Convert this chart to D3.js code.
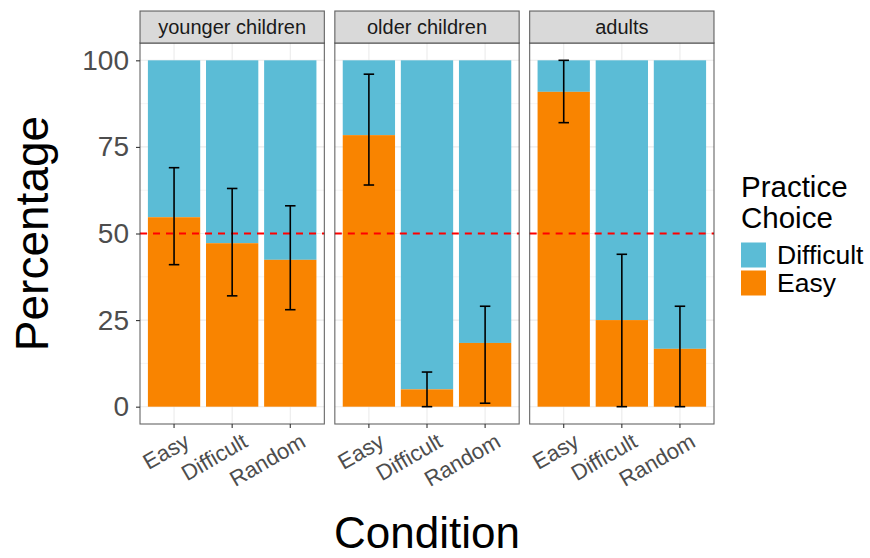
<!DOCTYPE html>
<html>
<head>
<meta charset="utf-8">
<script src="https://cdn.jsdelivr.net/npm/d3@7"></script>
<style>
  body { margin: 0; background: #ffffff; }
  svg { display: block; font-family: "Liberation Sans", Arial, Helvetica, sans-serif; }
</style>
</head>
<body>
<svg id="chart" width="870" height="558"></svg>
<script>
// Groups (facets), conditions (x categories) and choice series
const groups = ["younger children", "older children", "adults"];
const conditions = ["Easy", "Difficult", "Random"];
const choices = ["Difficult", "Easy"];
const choiceColors = ["#5BBCD6", "#F98400"];

// Percentage choosing the easy practice, per group (rows) and condition (cols)
const easyPct = [
  [54.7, 47.2, 42.4],
  [78.4, 5.0, 18.4],
  [90.9, 25.0, 16.7]
];
// Error bar bounds for the easy percentage
const errLow = [
  [41.0, 32.0, 28.0],
  [64.0, 0.0, 1.0],
  [82.0, 0.0, 0.0]
];
const errHigh = [
  [69.0, 63.0, 58.0],
  [96.0, 10.0, 29.0],
  [100.0, 44.0, 29.0]
];
const yTicks = [0, 25, 50, 75, 100];
const yMinor = [12.5, 37.5, 62.5, 87.5];
const chanceLevel = 50;

const svg = d3.select("#chart");

const plotLeft = 140, plotRight = 714;
const panelGap = 10.5;
const panelW = (plotRight - plotLeft - panelGap * (groups.length - 1)) / groups.length;
const stripTop = 11, stripH = 32;
const panelTop = stripTop + stripH, panelBottom = 424;

const y = d3.scaleLinear().domain([-5, 105]).range([panelBottom, panelTop]);
const x = d3.scaleBand().domain(conditions).range([0, panelW]).paddingInner(0.1).paddingOuter(0.136);
const xc = d => x(d) + x.bandwidth() / 2;
const capW = 10.5;

groups.forEach((g, gi) => {
  const px = plotLeft + gi * (panelW + panelGap);
  const panel = svg.append("g").attr("transform", `translate(${px},0)`);

  // grid
  panel.selectAll(".minor").data(yMinor).join("line")
    .attr("x1", 0).attr("x2", panelW).attr("y1", d => y(d)).attr("y2", d => y(d))
    .attr("stroke", "#ebebeb").attr("stroke-width", 0.55);
  panel.selectAll(".major").data(yTicks).join("line")
    .attr("x1", 0).attr("x2", panelW).attr("y1", d => y(d)).attr("y2", d => y(d))
    .attr("stroke", "#ebebeb").attr("stroke-width", 1.1);
  panel.selectAll(".vmajor").data(conditions).join("line")
    .attr("x1", d => xc(d)).attr("x2", d => xc(d)).attr("y1", panelTop).attr("y2", panelBottom)
    .attr("stroke", "#ebebeb").attr("stroke-width", 1.1);

  // stacked bars: easy at the bottom, difficult on top
  conditions.forEach((c, ci) => {
    const e = easyPct[gi][ci];
    panel.append("rect")
      .attr("x", x(c)).attr("width", x.bandwidth())
      .attr("y", y(100)).attr("height", y(e) - y(100))
      .attr("fill", choiceColors[0]);
    panel.append("rect")
      .attr("x", x(c)).attr("width", x.bandwidth())
      .attr("y", y(e)).attr("height", y(0) - y(e))
      .attr("fill", choiceColors[1]);
  });

  // chance line
  panel.append("line")
    .attr("x1", 0).attr("x2", panelW)
    .attr("y1", y(chanceLevel)).attr("y2", y(chanceLevel))
    .attr("stroke", "#ff0000").attr("stroke-width", 2)
    .attr("stroke-dasharray", "7,6");

  // error bars
  conditions.forEach((c, ci) => {
    const cx = xc(c), lo = y(errLow[gi][ci]), hi = y(errHigh[gi][ci]);
    const eb = panel.append("g").attr("stroke", "#000").attr("stroke-width", 1.6).attr("fill", "none");
    eb.append("line").attr("x1", cx).attr("x2", cx).attr("y1", lo).attr("y2", hi);
    eb.append("line").attr("x1", cx - capW / 2).attr("x2", cx + capW / 2).attr("y1", lo).attr("y2", lo);
    eb.append("line").attr("x1", cx - capW / 2).attr("x2", cx + capW / 2).attr("y1", hi).attr("y2", hi);
  });

  // panel border
  panel.append("rect")
    .attr("x", 0).attr("y", panelTop).attr("width", panelW).attr("height", panelBottom - panelTop)
    .attr("fill", "none").attr("stroke", "#333333").attr("stroke-width", 1.1).attr("stroke-opacity", 0.75);

  // strip
  panel.append("rect")
    .attr("x", 0).attr("y", stripTop).attr("width", panelW).attr("height", stripH)
    .attr("fill", "#d9d9d9").attr("stroke", "#333333").attr("stroke-width", 1.1).attr("stroke-opacity", 0.75);
  panel.append("text")
    .attr("x", panelW / 2).attr("y", stripTop + stripH / 2).attr("dy", "0.35em")
    .attr("text-anchor", "middle").attr("font-size", 20).attr("fill", "#1a1a1a")
    .text(g);

  // x axis
  const xAxis = panel.append("g").attr("transform", `translate(0,${panelBottom})`)
    .call(d3.axisBottom(x).tickSize(4).tickPadding(0).tickFormat(() => ""));
  xAxis.select(".domain").remove();
  xAxis.selectAll(".tick line").attr("stroke", "#333333").attr("stroke-width", 1.1);
  conditions.forEach(c => {
    panel.append("text")
      .attr("transform", `translate(${xc(c) + 9},${panelBottom + 8}) rotate(-30)`)
      .attr("text-anchor", "end").attr("dy", "0.72em")
      .attr("font-size", 22).attr("fill", "#4d4d4d")
      .text(c);
  });
});

// y axis
const yAxis = svg.append("g").attr("transform", `translate(${plotLeft},0)`)
  .call(d3.axisLeft(y).tickValues(yTicks).tickSize(4).tickPadding(7));
yAxis.select(".domain").remove();
yAxis.selectAll(".tick line").attr("stroke", "#333333").attr("stroke-width", 1.1);
yAxis.selectAll(".tick text").attr("font-size", 28).attr("fill", "#4d4d4d")
  .attr("font-family", "Liberation Sans, Arial, sans-serif");

// axis titles
svg.append("text")
  .attr("transform", `translate(48,${(panelTop + panelBottom) / 2}) rotate(-90)`)
  .attr("text-anchor", "middle").attr("font-size", 46).attr("fill", "#000")
  .text("Percentage");
svg.append("text")
  .attr("x", (plotLeft + plotRight) / 2).attr("y", 548)
  .attr("text-anchor", "middle").attr("font-size", 44).attr("fill", "#000")
  .text("Condition");

// legend
const legend = svg.append("g").attr("transform", "translate(741,0)");
legend.append("text").attr("x", 0).attr("y", 197).attr("font-size", 29.5).text("Practice");
legend.append("text").attr("x", 0).attr("y", 228).attr("font-size", 29.5).text("Choice");
choices.forEach((c, i) => {
  const ky = 242.5 + i * 28;
  legend.append("rect").attr("x", 0).attr("y", ky).attr("width", 25).attr("height", 25)
    .attr("fill", choiceColors[i]);
  legend.append("text").attr("x", 36).attr("y", ky + 12.5).attr("dy", "0.35em")
    .attr("font-size", 26.5).text(c);
});
</script>
</body>
</html>
